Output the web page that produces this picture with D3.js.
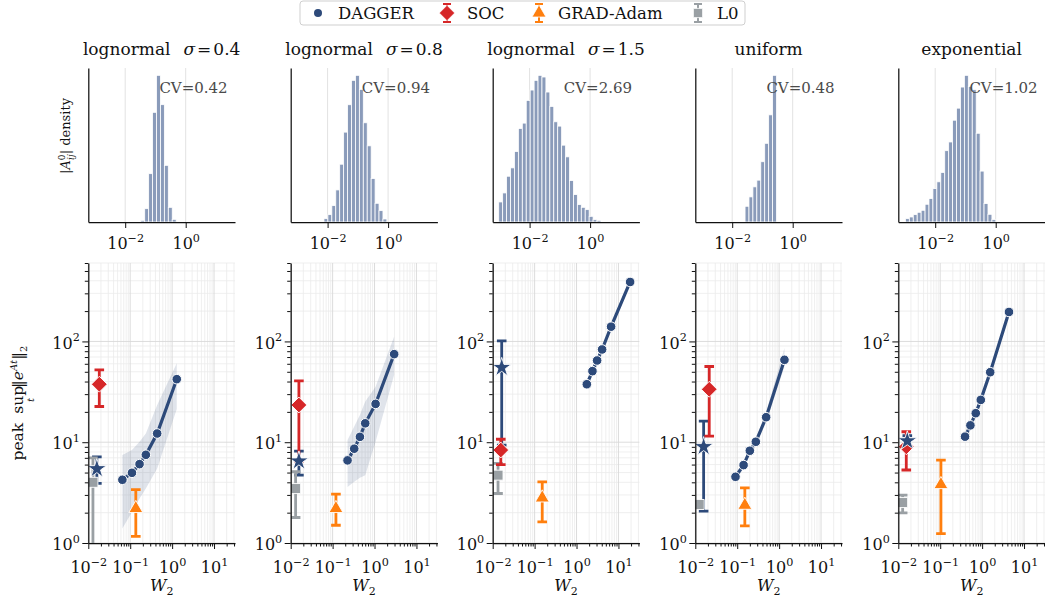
<!DOCTYPE html>
<html>
<head>
<meta charset="utf-8">
<script src="https://cdn.jsdelivr.net/npm/d3@7"></script>
<style>
  body { margin: 0; background: #fff; }
  svg text { font-family: "DejaVu Serif", serif; fill: #111; }
</style>
</head>
<body>
<svg id="chart" width="1045" height="602"></svg>
<script>
// ---------------- data ----------------
const panelNames = ["lognormal", "lognormal", "lognormal", "uniform", "exponential"];
const panelSigma = [0.4, 0.8, 1.5, null, null];
const cvValues = ["0.42", "0.94", "2.69", "0.48", "1.02"];

// log10 histogram of |A_ij^0|: first bin centre (decades), bin width, bar heights
const histStart = [-1.42, -2.055, -2.956, -1.51, -2.92];
const histStep = 0.13;
const histHeights = [
  [5, 40, 145, 329, 440, 352, 170, 44, 8],
  [10, 22, 49, 96, 173, 269, 351, 424, 439, 397, 297, 228, 130, 56, 34, 9],
  [60, 87, 137, 162, 211, 280, 296, 364, 395, 424, 439, 434, 389, 346, 300, 287, 230, 195, 124, 82, 52, 44, 37, 17, 7, 5],
  [47, 75, 105, 125, 180, 235, 320, 438],
  [10, 15, 22, 29, 35, 53, 70, 100, 120, 148, 213, 239, 304, 340, 403, 438, 405, 395, 265, 152, 55, 23, 7]
];

// DAGGER sweep: W2 vs peak transient growth, with spread band
const daggerW2 = [
  [0.065, 0.11, 0.167, 0.236, 0.44, 1.29],
  [0.227, 0.328, 0.448, 0.6, 1.06, 2.94],
  [1.76, 2.4, 3.1, 4.08, 6.68, 19],
  [0.091, 0.142, 0.2, 0.278, 0.49, 1.34],
  [0.391, 0.525, 0.705, 0.929, 1.56, 4.37]
];
const daggerPeak = [
  [4.24, 4.97, 6.06, 7.5, 12.2, 42.2],
  [6.6, 8.62, 11.3, 15.4, 24, 74.8],
  [37.6, 50.7, 64.7, 83.2, 140, 389],
  [4.54, 5.93, 8.23, 10.1, 17.7, 65.7],
  [11.35, 14.7, 19.4, 26.3, 49.5, 196]
];
const daggerLo = [
  [1.39, 2.03, 2.76, 3.47, 5.5, 21.4],
  [3.6, 4.05, 4.43, 4.71, 10.1, 46.6],
  [35, 47.5, 61, 78.5, 132, 365],
  [4.2, 5.5, 7.6, 9.3, 15.8, 56],
  [10.8, 14, 18.5, 25, 47, 186]
];
const daggerHi = [
  [7.45, 8.36, 10.1, 12.2, 23.4, 60.8],
  [10.5, 14.3, 18.6, 25.3, 35.6, 112],
  [40.5, 54, 68.5, 88, 148, 415],
  [4.9, 6.4, 8.9, 11, 19.8, 86],
  [11.9, 15.4, 20.3, 27.6, 52, 206]
];

// selected DAGGER operating point (star)
const starW2 = [0.016, 0.0157, 0.0164, 0.0158, 0.0164];
const starPeak = [5.45, 6.5, 55.1, 9.02, 10.3];
const starLo = [3.9, 4.71, 9.37, 2.07, 9.0];
const starHi = [7.17, 8.17, 101.5, 16.2, 11.6];

// SOC
const socW2 = [0.0183, 0.0157, 0.0156, 0.0215, 0.0155];
const socPeak = [37.6, 23.4, 8.36, 33.5, 9.0];
const socLo = [22.6, 6.5, 6.0, 11.5, 5.3];
const socHi = [52.2, 40.6, 10.7, 56.4, 12.7];

// GRAD-Adam
const gradW2 = [0.136, 0.12, 0.152, 0.152, 0.104];
const gradPeak = [2.2, 2.2, 2.8, 2.37, 3.8];
const gradLo = [1.165, 1.5, 1.62, 1.48, 1.24];
const gradHi = [3.39, 3.05, 4.05, 3.53, 6.65];

// L0
const l0W2 = [0.0129, 0.0131, 0.0134, 0.0124, 0.0127];
const l0Peak = [4.0, 3.47, 4.71, 2.41, 2.52];
const l0Lo = [0.3, 1.79, 3.1, 2.2, 1.99];
const l0Hi = [7.0, 5.09, 6.16, 2.62, 2.98];

const legendLabels = ["DAGGER", "SOC", "GRAD-Adam", "L0"];

// ---------------- layout & style ----------------
const svg = d3.select("#chart");
const panelLeft = [88.3, 290.7, 492.7, 695.3, 898.3];
const panelW = 146.7;
const histY = [68, 222];
const mainY = [263, 543];
const navy = "#2d4a7a", red = "#d62728", orange = "#ff7f0e", grey = "#9aa0a4", barFill = "#8a9bba";
const tickFont = 16;

function powLabel(sel, size) {
  sel.each(function (d) {
    const e = Math.round(Math.log10(d));
    const t = d3.select(this);
    t.text(null).attr("font-size", size).attr("fill", "#111");
    t.append("tspan").text("10");
    t.append("tspan").attr("dy", -0.45 * size).attr("font-size", size * 0.7)
      .text(e < 0 ? "\u2212" + (-e) : String(e));
  });
}
function styleAxis(g) {
  g.attr("font-family", null).attr("font-size", null);
  g.select(".domain").attr("stroke", "#111").attr("stroke-width", 1.25);
  g.selectAll(".tick line").attr("stroke", "#111").attr("stroke-width", 1);
}
function minorVals(lo, hi) {
  const out = [];
  for (let d = Math.floor(Math.log10(lo)); d <= Math.ceil(Math.log10(hi)); d++)
    for (let k = 2; k <= 9; k++) {
      const v = k * Math.pow(10, d);
      if (v >= lo && v <= hi) out.push(v);
    }
  return out;
}
const sym = (type, size) => d3.symbol().type(type).size(size)();

panelLeft.forEach((L, i) => {
  const R = L + panelW;

  // ---- title ----
  const title = svg.append("text").attr("x", (L + R) / 2).attr("y", 55)
    .attr("text-anchor", "middle").attr("font-size", 17);
  title.append("tspan").text(panelNames[i]);
  if (panelSigma[i] !== null) {
    title.append("tspan").attr("dx", 13).attr("font-style", "italic").text("\u03c3");
    title.append("tspan").attr("dx", 2).text("=");
    title.append("tspan").attr("dx", 2).text(String(panelSigma[i]));
  }

  // ---- histogram ----
  const xh = d3.scaleLog().domain([Math.pow(10, -3.22), Math.pow(10, 1.63)]).range([L, R]);
  const hmax = d3.max(histHeights[i]);
  const yh = d3.scaleLinear().domain([0, hmax * 1.05]).range([histY[1], histY[0]]);
  const gh = svg.append("g");
  gh.selectAll("line.grid").data([1e-2, 1]).join("line")
    .attr("x1", d => xh(d)).attr("x2", d => xh(d))
    .attr("y1", histY[0]).attr("y2", histY[1])
    .attr("stroke", "#e2e2e2").attr("stroke-width", 1);
  const bins = histHeights[i].map((h, k) => ({ c: histStart[i] + k * histStep, h }));
  gh.selectAll("rect").data(bins).join("rect")
    .attr("x", d => xh(Math.pow(10, d.c - histStep / 2)))
    .attr("width", d => xh(Math.pow(10, d.c + histStep / 2)) - xh(Math.pow(10, d.c - histStep / 2)))
    .attr("y", d => yh(d.h)).attr("height", d => yh(0) - yh(d.h))
    .attr("fill", barFill).attr("stroke", "#fff").attr("stroke-width", 0.8);

  const hx = svg.append("g").attr("transform", `translate(0,${histY[1]})`)
    .call(d3.axisBottom(xh).tickValues([1e-2, 1]).tickSize(6).tickSizeOuter(0));
  styleAxis(hx);
  hx.selectAll(".tick text").attr("y", 27).attr("dy", 0).call(powLabel, tickFont);
  const hy = svg.append("g").attr("transform", `translate(${L},0)`)
    .call(d3.axisLeft(yh).tickValues([]).tickSizeOuter(0));
  styleAxis(hy);

  svg.append("text").attr("x", L + 0.95 * panelW).attr("y", 93)
    .attr("text-anchor", "end").attr("font-size", 15).style("fill", "#4a4a4a")
    .text("CV=" + cvValues[i]);

  // ---- peak vs W2 ----
  const x = d3.scaleLog().domain([1e-2, Math.pow(10, 1.5)]).range([L, R]);
  const y = d3.scaleLog().domain([1, 600]).range([mainY[1], mainY[0]]);
  const mx = minorVals(1e-2, Math.pow(10, 1.5));
  const my = minorVals(1, 600);
  const Mx = [1e-2, 1e-1, 1, 10], My = [1, 10, 100];

  const gg = svg.append("g");
  gg.selectAll("line.mxg").data(mx).join("line")
    .attr("x1", d => x(d)).attr("x2", d => x(d)).attr("y1", mainY[0]).attr("y2", mainY[1])
    .attr("stroke", "#ebebeb").attr("stroke-width", 0.8);
  gg.selectAll("line.myg").data(my).join("line")
    .attr("y1", d => y(d)).attr("y2", d => y(d)).attr("x1", L).attr("x2", R)
    .attr("stroke", "#ebebeb").attr("stroke-width", 0.8);
  gg.selectAll("line.Mxg").data(Mx).join("line")
    .attr("x1", d => x(d)).attr("x2", d => x(d)).attr("y1", mainY[0]).attr("y2", mainY[1])
    .attr("stroke", "#d8d8d8").attr("stroke-width", 0.9);
  gg.selectAll("line.Myg").data(My).join("line")
    .attr("y1", d => y(d)).attr("y2", d => y(d)).attr("x1", L).attr("x2", R)
    .attr("stroke", "#d8d8d8").attr("stroke-width", 0.9);

  const clipId = "clip" + i;
  svg.append("clipPath").attr("id", clipId).append("rect")
    .attr("x", L).attr("y", mainY[0]).attr("width", panelW).attr("height", mainY[1] - mainY[0]);
  const gp = svg.append("g").attr("clip-path", `url(#${clipId})`);

  // DAGGER band + curve
  const pts = daggerW2[i].map((w, k) => ({ w, v: daggerPeak[i][k], lo: daggerLo[i][k], hi: daggerHi[i][k] }));
  gp.append("path").datum(pts)
    .attr("d", d3.area().x(d => x(d.w)).y0(d => y(d.lo)).y1(d => y(d.hi)))
    .attr("fill", navy).attr("fill-opacity", 0.15);
  gp.append("path").datum(pts)
    .attr("d", d3.line().x(d => x(d.w)).y(d => y(d.v)))
    .attr("fill", "none").attr("stroke", navy).attr("stroke-width", 3.2);
  gp.selectAll("circle.dag").data(pts).join("circle")
    .attr("cx", d => x(d.w)).attr("cy", d => y(d.v)).attr("r", 4.8)
    .attr("fill", navy).attr("stroke", "#fff").attr("stroke-width", 1);

  function errBar(w, lo, hi, color) {
    const g = gp.append("g").attr("stroke", color).attr("stroke-width", 2.8);
    g.append("line").attr("x1", x(w)).attr("x2", x(w)).attr("y1", y(lo)).attr("y2", y(hi));
    [lo, hi].forEach(v => g.append("line").attr("x1", x(w) - 4.8).attr("x2", x(w) + 4.8)
      .attr("y1", y(v)).attr("y2", y(v)));
  }
  function marker(w, v, shape, size, color, rot) {
    gp.append("path").attr("d", sym(shape, size))
      .attr("transform", `translate(${x(w)},${y(v)}) rotate(${rot || 0})`)
      .attr("fill", color).attr("stroke", "#fff").attr("stroke-width", 0.9);
  }

  errBar(starW2[i], starLo[i], starHi[i], navy);
  errBar(l0W2[i], l0Lo[i], l0Hi[i], grey);
  marker(l0W2[i], l0Peak[i], d3.symbolSquare, 100, grey);
  errBar(socW2[i], socLo[i], socHi[i], red);
  marker(socW2[i], socPeak[i], d3.symbolSquare, 125, red, 45);
  errBar(gradW2[i], gradLo[i], gradHi[i], orange);
  marker(gradW2[i], gradPeak[i], d3.symbolTriangle, 85, orange);
  marker(starW2[i], starPeak[i], d3.symbolStar, 115, navy);

  // axes
  const ax1 = svg.append("g").attr("transform", `translate(0,${mainY[1]})`)
    .call(d3.axisBottom(x).tickValues(mx).tickSize(3.5).tickFormat(""));
  styleAxis(ax1); ax1.select(".domain").remove();
  const ax2 = svg.append("g").attr("transform", `translate(0,${mainY[1]})`)
    .call(d3.axisBottom(x).tickValues(Mx).tickSize(6).tickSizeOuter(0));
  styleAxis(ax2);
  ax2.selectAll(".tick text").attr("y", 30).attr("dy", 0).call(powLabel, tickFont);

  const ay1 = svg.append("g").attr("transform", `translate(${L},0)`)
    .call(d3.axisLeft(y).tickValues(my).tickSize(3.5).tickFormat(""));
  styleAxis(ay1); ay1.select(".domain").remove();
  const ay2 = svg.append("g").attr("transform", `translate(${L},0)`)
    .call(d3.axisLeft(y).tickValues(My).tickSize(6).tickSizeOuter(0).tickPadding(2.5));
  styleAxis(ay2);
  ay2.selectAll(".tick text").attr("dy", "0.42em").call(powLabel, tickFont);

  // x label W_2
  const xl = svg.append("text").attr("x", (L + R) / 2).attr("y", 591)
    .attr("text-anchor", "middle").attr("font-size", 16);
  xl.append("tspan").attr("font-style", "italic").text("W");
  xl.append("tspan").attr("dy", 3.5).attr("font-size", 11).text("2");
});

// ---- y labels ----
const yl1 = svg.append("g").attr("transform", "translate(70,136) rotate(-90)");
const t1 = yl1.append("text").attr("text-anchor", "middle").attr("font-size", 13);
t1.append("tspan").text("|");
t1.append("tspan").attr("font-style", "italic").text("A");
t1.append("tspan").attr("dy", -5).attr("font-size", 9).text("0");
t1.append("tspan").attr("dx", -5.5).attr("dy", 9).attr("font-size", 9).attr("font-style", "italic").text("ij");
t1.append("tspan").attr("dy", -4).text("| density");

const yl2 = svg.append("g").attr("transform", "translate(23,403.5) rotate(-90)");
const t2 = yl2.append("text").attr("x", -57).attr("font-size", 15.5);
t2.append("tspan").text("peak");
t2.append("tspan").attr("dx", 9).text("sup");
t2.append("tspan").attr("dx", -16).attr("dy", 10.5).attr("font-size", 10).attr("font-style", "italic").text("t");
t2.append("tspan").attr("dx", 10).attr("dy", -10.5).text("\u2016");
t2.append("tspan").attr("font-style", "italic").text("e");
t2.append("tspan").attr("dy", -6).attr("font-size", 10).attr("font-style", "italic").text("At");
t2.append("tspan").attr("dy", 6).text("\u2016");
t2.append("tspan").attr("dy", 4).attr("font-size", 10).text("2");

// ---- legend ----
const lg = svg.append("g");
lg.append("rect").attr("x", 300).attr("y", 1).attr("width", 445).attr("height", 24)
  .attr("rx", 3).attr("fill", "#fff").attr("stroke", "#cfcfcf").attr("stroke-width", 1);
const lgX = [318, 447, 539, 698];
const lgTextX = [338, 467, 558, 717];
const lgColor = [navy, red, orange, grey];
const lgShape = [null, d3.symbolSquare, d3.symbolTriangle, d3.symbolSquare];
const lgSize = [0, 120, 85, 85];
const lgRot = [0, 45, 0, 0];
legendLabels.forEach((lab, k) => {
  const cx = lgX[k], cy = 13;
  if (k === 0) {
    lg.append("circle").attr("cx", cx).attr("cy", cy).attr("r", 4).attr("fill", navy);
  } else {
    const g = lg.append("g").attr("stroke", lgColor[k]).attr("stroke-width", 2);
    g.append("line").attr("x1", cx).attr("x2", cx).attr("y1", 4).attr("y2", 22);
    [4, 22].forEach(v => g.append("line").attr("x1", cx - 4).attr("x2", cx + 4).attr("y1", v).attr("y2", v));
    lg.append("path").attr("d", sym(lgShape[k], lgSize[k]))
      .attr("transform", `translate(${cx},${cy}) rotate(${lgRot[k]})`)
      .attr("fill", lgColor[k]).attr("stroke", "#fff").attr("stroke-width", 0.8);
  }
  lg.append("text").attr("x", lgTextX[k]).attr("y", 19).attr("font-size", 16.5).text(lab);
});
</script>
</body>
</html>
